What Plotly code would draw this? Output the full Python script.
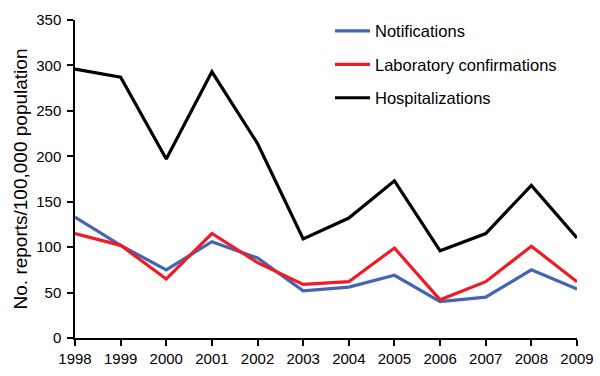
import plotly.graph_objects as go

years = [1998, 1999, 2000, 2001, 2002, 2003, 2004, 2005, 2006, 2007, 2008, 2009]
notifications = [133, 102, 75, 106, 88, 52, 56, 69, 40, 45, 75, 54]
lab_confirmations = [115, 102, 65, 115, 83, 59, 62, 99, 42, 62, 101, 62]
hospitalizations = [296, 287, 197, 293, 214, 109, 132, 173, 96, 115, 168, 110]
y_ticks = [0, 50, 100, 150, 200, 250, 300, 350]

series = [
    ("Notifications", notifications, "#4664B4"),
    ("Laboratory confirmations", lab_confirmations, "#EE1C24"),
    ("Hospitalizations", hospitalizations, "#000000"),
]

fig = go.Figure()
for i, (name, vals, color) in enumerate(series):
    fig.add_trace(go.Scatter(
        x=years, y=vals, mode="lines", name=name,
        line=dict(color=color, width=3.2),
        legendgroup=f"g{i}",
        hoverinfo="skip",
    ))

font_family = "Liberation Sans, Arial, sans-serif"
fig.update_layout(
    width=600, height=376,
    margin=dict(l=75, r=23, t=20, b=38, pad=0, autoexpand=False),
    paper_bgcolor="white", plot_bgcolor="white",
    font=dict(family=font_family, color="black", size=15),
    showlegend=True,
    hovermode=False,
    legend=dict(
        x=0.508, y=1.02, xanchor="left", yanchor="top",
        font=dict(size=16.5, color="black"),
        bgcolor="rgba(0,0,0,0)",
        tracegroupgap=9,
        itemwidth=35,
    ),
    xaxis=dict(
        range=[1998, 2009], tickmode="array", tickvals=years,
        ticktext=[str(y) for y in years],
        showline=True, linecolor="black", linewidth=1.5,
        ticks="outside", ticklen=6, tickwidth=1.5, tickcolor="black",
        showgrid=False, zeroline=False, automargin=False,
        tickfont=dict(size=15),
    ),
    yaxis=dict(
        range=[0, 350], tickmode="array", tickvals=y_ticks,
        showline=True, linecolor="black", linewidth=1.5,
        ticks="outside", ticklen=6, tickwidth=1.5, tickcolor="black",
        showgrid=False, zeroline=False, automargin=False,
        tickfont=dict(size=15),
        ticklabelstandoff=3,
        title=dict(text="No. reports/100,000 population", font=dict(size=19), standoff=4),
    ),
)

fig.write_html("out.html", config={"displayModeBar": False},
               post_script="document.body.style.margin='0';")
